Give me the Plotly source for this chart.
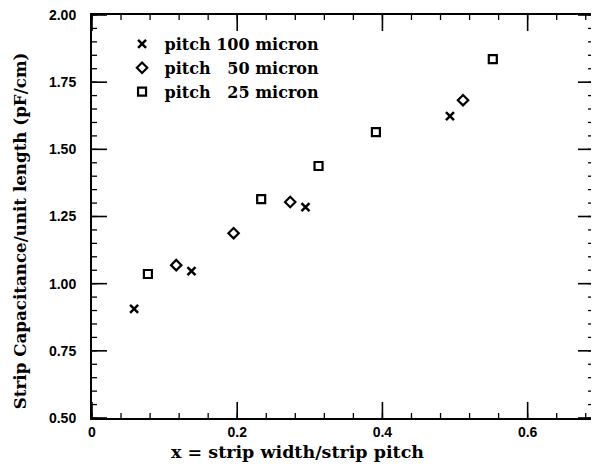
import numpy as np
import plotly.graph_objects as go

# data
x_100 = [0.058, 0.137, 0.294, 0.493]
y_100 = [0.906, 1.047, 1.285, 1.624]
x_50 = [0.116, 0.195, 0.273, 0.511]
y_50 = [1.069, 1.188, 1.304, 1.683]
x_25 = [0.077, 0.233, 0.312, 0.391, 0.552]
y_25 = [1.036, 1.315, 1.438, 1.564, 1.836]

labels = ["pitch 100 micron", "pitch \u200750 micron", "pitch \u200725 micron"]
x_ticks = [0, 0.2, 0.4, 0.6]
x_tick_text = ["0", "0.2", "0.4", "0.6"]
y_ticks = [0.5, 0.75, 1.0, 1.25, 1.5, 1.75, 2.0]
y_tick_text = ["0.50", "0.75", "1.00", "1.25", "1.50", "1.75", "2.00"]
x_title = "x = strip width/strip pitch"
y_title = "Strip Capacitance/unit length (pF/cm)"

x_range = [0, 0.69]
y_range = [0.5, 2.0]
x_minor = [round(v, 3) for v in np.arange(0, 0.69, 0.04)]
y_minor = [round(v, 3) for v in np.arange(0.5, 2.001, 0.05)]

serif = "DejaVu Serif"
fig = go.Figure()
fig.add_trace(go.Scatter(x=x_100, y=y_100, mode="markers", name=labels[0],
                         marker=dict(symbol="x-thin", size=8, color="black",
                                     line=dict(width=2.5, color="black"))))
fig.add_trace(go.Scatter(x=x_50, y=y_50, mode="markers", name=labels[1],
                         marker=dict(symbol="diamond-open", size=8, color="black",
                                     line=dict(width=2.2, color="black"))))
fig.add_trace(go.Scatter(x=x_25, y=y_25, mode="markers", name=labels[2],
                         marker=dict(symbol="square-open", size=8, color="black",
                                     line=dict(width=2.2, color="black"))))

# tick marks drawn as pixel-sized shapes (inside, on all four sides)
shapes = []
def xtick(v, length, width):
    for anchor, sign in ((0, 1), (1, -1)):
        shapes.append(dict(type="line", xref="x", x0=v, x1=v, yref="paper", ysizemode="pixel",
                           yanchor=anchor, y0=0, y1=sign * length,
                           line=dict(color="black", width=width), layer="above"))
def ytick(v, length, width):
    for anchor, sign in ((0, 1), (1, -1)):
        shapes.append(dict(type="line", yref="y", y0=v, y1=v, xref="paper", xsizemode="pixel",
                           xanchor=anchor, x0=0, x1=sign * length,
                           line=dict(color="black", width=width), layer="above"))
for v in x_minor:
    xtick(v, 5, 1.3)
for v in x_ticks:
    xtick(v, 16, 1.6)
for v in y_minor:
    ytick(v, 5, 1.3)
for v in y_ticks:
    ytick(v, 15, 1.6)

tickfont = dict(family="Liberation Sans", size=14, color="black", weight="bold")
axis_common = dict(showline=True, linecolor="#000000", linewidth=2, mirror=True,
                   ticks="", showgrid=False, zeroline=False, automargin=False,
                   tickfont=tickfont, ticklabeloverflow="allow")

fig.update_layout(
    width=585, height=454, plot_bgcolor="white", paper_bgcolor="white",
    margin=dict(l=84, r=0, t=7, b=44),
    xaxis=dict(range=x_range, tickvals=x_ticks, ticktext=x_tick_text,
               ticklabelstandoff=0, **axis_common),
    yaxis=dict(range=y_range, tickvals=y_ticks, ticktext=y_tick_text,
               ticklabelstandoff=11, **axis_common),
    shapes=shapes,
    annotations=[
        dict(text="<b>" + x_title + "</b>", xref="paper", yref="paper", x=0.41, y=-0.084,
             xanchor="center", yanchor="middle", showarrow=False,
             font=dict(family=serif, size=17.5, color="black")),
        dict(text="<b>" + y_title + "</b>", xref="paper", yref="paper", x=-0.1445, y=0.465,
             xanchor="center", yanchor="middle", textangle=-90, showarrow=False,
             font=dict(family=serif, size=16.7, color="black")),
    ],
    legend=dict(x=0.055, y=0.970, xanchor="left", yanchor="top",
                bgcolor="rgba(0,0,0,0)", tracegroupgap=0, itemwidth=35,
                font=dict(family=serif, size=16, color="black", weight="bold")),
    showlegend=True,
)
fig.write_html("out.html")
